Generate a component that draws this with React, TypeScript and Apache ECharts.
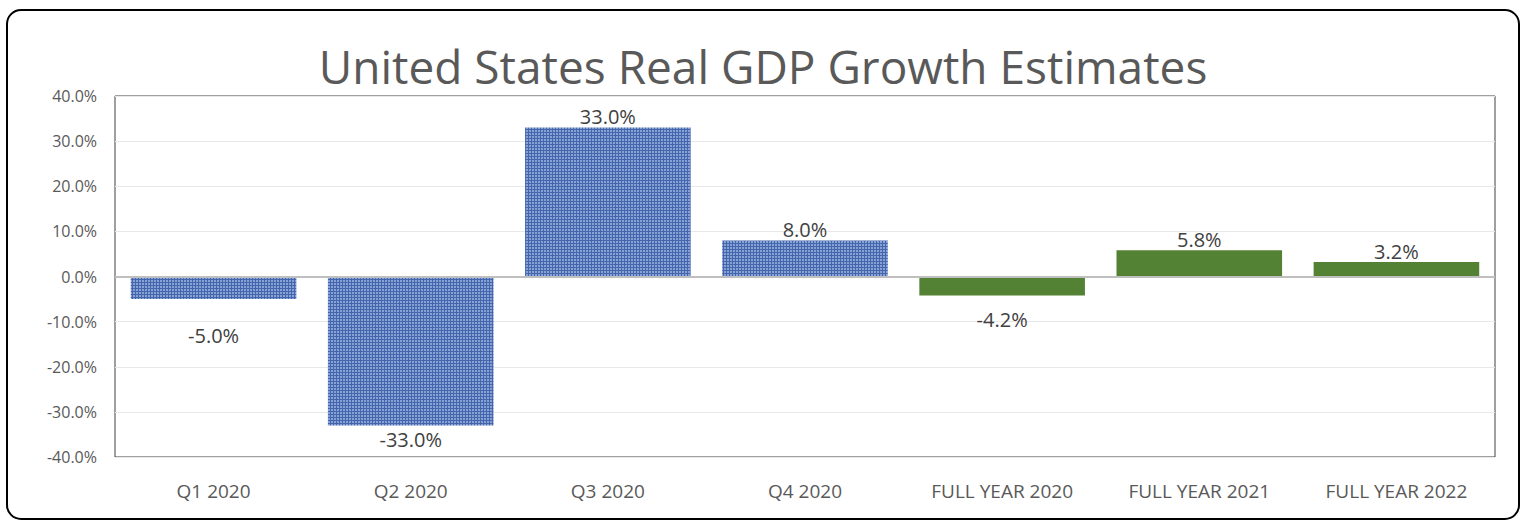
import React, { useEffect, useRef } from "react";
import * as echarts from "echarts";

const categories = ["Q1 2020", "Q2 2020", "Q3 2020", "Q4 2020", "FULL YEAR 2020", "FULL YEAR 2021", "FULL YEAR 2022"];
const values = [-5.0, -33.0, 33.0, 8.0, -4.2, 5.8, 3.2];
const isQuarter = [true, true, true, true, false, false, false];
const labelGap = [26, 4, 1, 1, 14, 1, 1];
const yTicks = { min: -40, max: 40, interval: 10 };
const titleText = "United States Real GDP Growth Estimates";

function makePattern(): HTMLCanvasElement {
  const c = document.createElement("canvas");
  c.width = 3;
  c.height = 3;
  const ctx = c.getContext("2d")!;
  ctx.fillStyle = "#88a2d6";
  ctx.fillRect(0, 0, 3, 3);
  ctx.fillStyle = "#4466ac";
  ctx.fillRect(0, 0, 3, 1);
  ctx.fillRect(0, 0, 1, 3);
  return c;
}

export default function App() {
  const ref = useRef<HTMLDivElement>(null);
  useEffect(() => {
    document.body.style.margin = "0";
    const chart = echarts.init(ref.current!, undefined, { renderer: "svg" });
    const pattern = makePattern();
    const data = values.map((v, i) => ({
      value: v,
      itemStyle: {
        color: isQuarter[i] ? { image: pattern, repeat: "repeat" } : "#548235",
      },
      label: {
        position: v < 0 ? "bottom" : "top",
        distance: labelGap[i],
      },
    }));
    chart.setOption({
      animation: false,
      backgroundColor: "#ffffff",
      title: {
        text: titleText,
        left: "center",
        top: 38,
        textStyle: {
          fontFamily: "Open Sans",
          fontSize: 46,
          fontWeight: "normal",
          color: "#595959",
        },
      },
      graphic: [
        {
          type: "rect",
          shape: { x: 7, y: 10, width: 1512, height: 509, r: 14 },
          style: { fill: "none", stroke: "#000000", lineWidth: 2 },
          silent: true,
          z: 100,
        },
      ],
      grid: { left: 115, right: 31, top: 96, bottom: 64, show: true, borderColor: "#404040", borderWidth: 1 },
      xAxis: {
        type: "category",
        data: categories,
        axisLine: { show: false },
        axisTick: { show: false },
        axisLabel: {
          fontFamily: "Open Sans",
          fontSize: 19,
          color: "#595959",
          margin: 24,
          interval: 0,
        },
      },
      yAxis: {
        type: "value",
        min: yTicks.min,
        max: yTicks.max,
        interval: yTicks.interval,
        axisLine: { show: false },
        axisTick: { show: false },
        axisLabel: {
          fontFamily: "Open Sans",
          fontSize: 16,
          color: "#595959",
          margin: 18,
          formatter: (v: number) => v.toFixed(1) + "%",
        },
        splitLine: { lineStyle: { color: "#e8e8e8", width: 1 } },
      },
      series: [
        {
          type: "bar",
          data,
          barCategoryGap: "16%",
          label: {
            show: true,
            fontFamily: "Open Sans",
            fontSize: 20,
            color: "#404040",
            formatter: (p: any) => p.value.toFixed(1) + "%",
          },
          markLine: {
            silent: true,
            symbol: "none",
            label: { show: false },
            lineStyle: { color: "#bfbfbf", width: 2, type: "solid" },
            data: [{ yAxis: 0 }],
          },
        },
      ],
    });
    return () => chart.dispose();
  }, []);
  return <div ref={ref} style={{ position: "absolute", left: 0, top: 0, width: 1526, height: 521 }} />;
}
